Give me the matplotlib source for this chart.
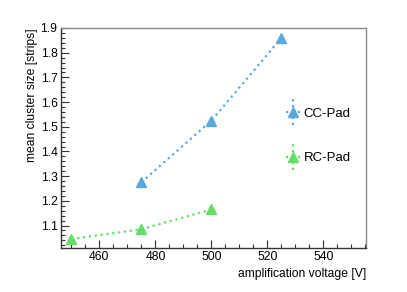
import matplotlib
matplotlib.use("Agg")
import matplotlib.pyplot as plt
from matplotlib.ticker import MultipleLocator
from matplotlib.container import ErrorbarContainer
from matplotlib.legend_handler import HandlerErrorbar

plt.rcParams['font.family'] = ['Liberation Sans', 'DejaVu Sans']

cc_voltage = [475, 500, 525]
cc_size = [1.275, 1.525, 1.86]
rc_voltage = [450, 475, 500]
rc_size = [1.045, 1.085, 1.165]

labels = ["CC-Pad", "RC-Pad"]
blue = "#5aa8dc"
green = "#66dd66"

fig = plt.figure(figsize=(4.07, 2.92), dpi=100)
ax = fig.add_axes([61/407, 1-248/292, 305/407, 220/292])

h1 = ax.errorbar(cc_voltage, cc_size, yerr=[0]*3, color=blue, linestyle=':', linewidth=1.6,
                 marker='^', markersize=6.5, elinewidth=1.6, label=labels[0])
h2 = ax.errorbar(rc_voltage, rc_size, yerr=[0]*3, color=green, linestyle=':', linewidth=1.6,
                 marker='^', markersize=6.5, elinewidth=1.6, label=labels[1])
for h in (h1, h2):
    for c in h[2]:
        c.set_linestyle(':')

ax.set_xlim(446.3, 555.2)
ax.set_ylim(1.009, 1.9)
ax.xaxis.set_major_locator(MultipleLocator(20))
ax.xaxis.set_minor_locator(MultipleLocator(5))
ax.yaxis.set_minor_locator(MultipleLocator(0.02))
ax.set_yticks([1.1, 1.2, 1.3, 1.4, 1.5, 1.6, 1.7, 1.8, 1.9])
ax.tick_params(which='both', direction='in', top=False, right=False, labelsize=8.7,
               color='#333333', width=0.8, pad=2.5)
ax.tick_params(which='major', length=6)
ax.tick_params(which='minor', length=3)
for s in ax.spines.values():
    s.set_color('#888888')
    s.set_linewidth(1.0)
ax.spines['left'].set_color('#333333')
ax.spines['bottom'].set_color('#333333')

ax.set_xlabel("amplification voltage [V]", fontsize=8.7, loc='right', labelpad=3)
ax.set_ylabel("mean cluster size [strips]", fontsize=8.7, loc='top', labelpad=2)

leg = ax.legend(loc='center left', bbox_to_anchor=(0.70, 0.51), frameon=False,
                fontsize=9.5, handlelength=1.0, labelspacing=2.45, handletextpad=0.3,
                handler_map={ErrorbarContainer: HandlerErrorbar(xerr_size=0.5, yerr_size=1.0)})

fig.savefig("out.png", dpi=100)
